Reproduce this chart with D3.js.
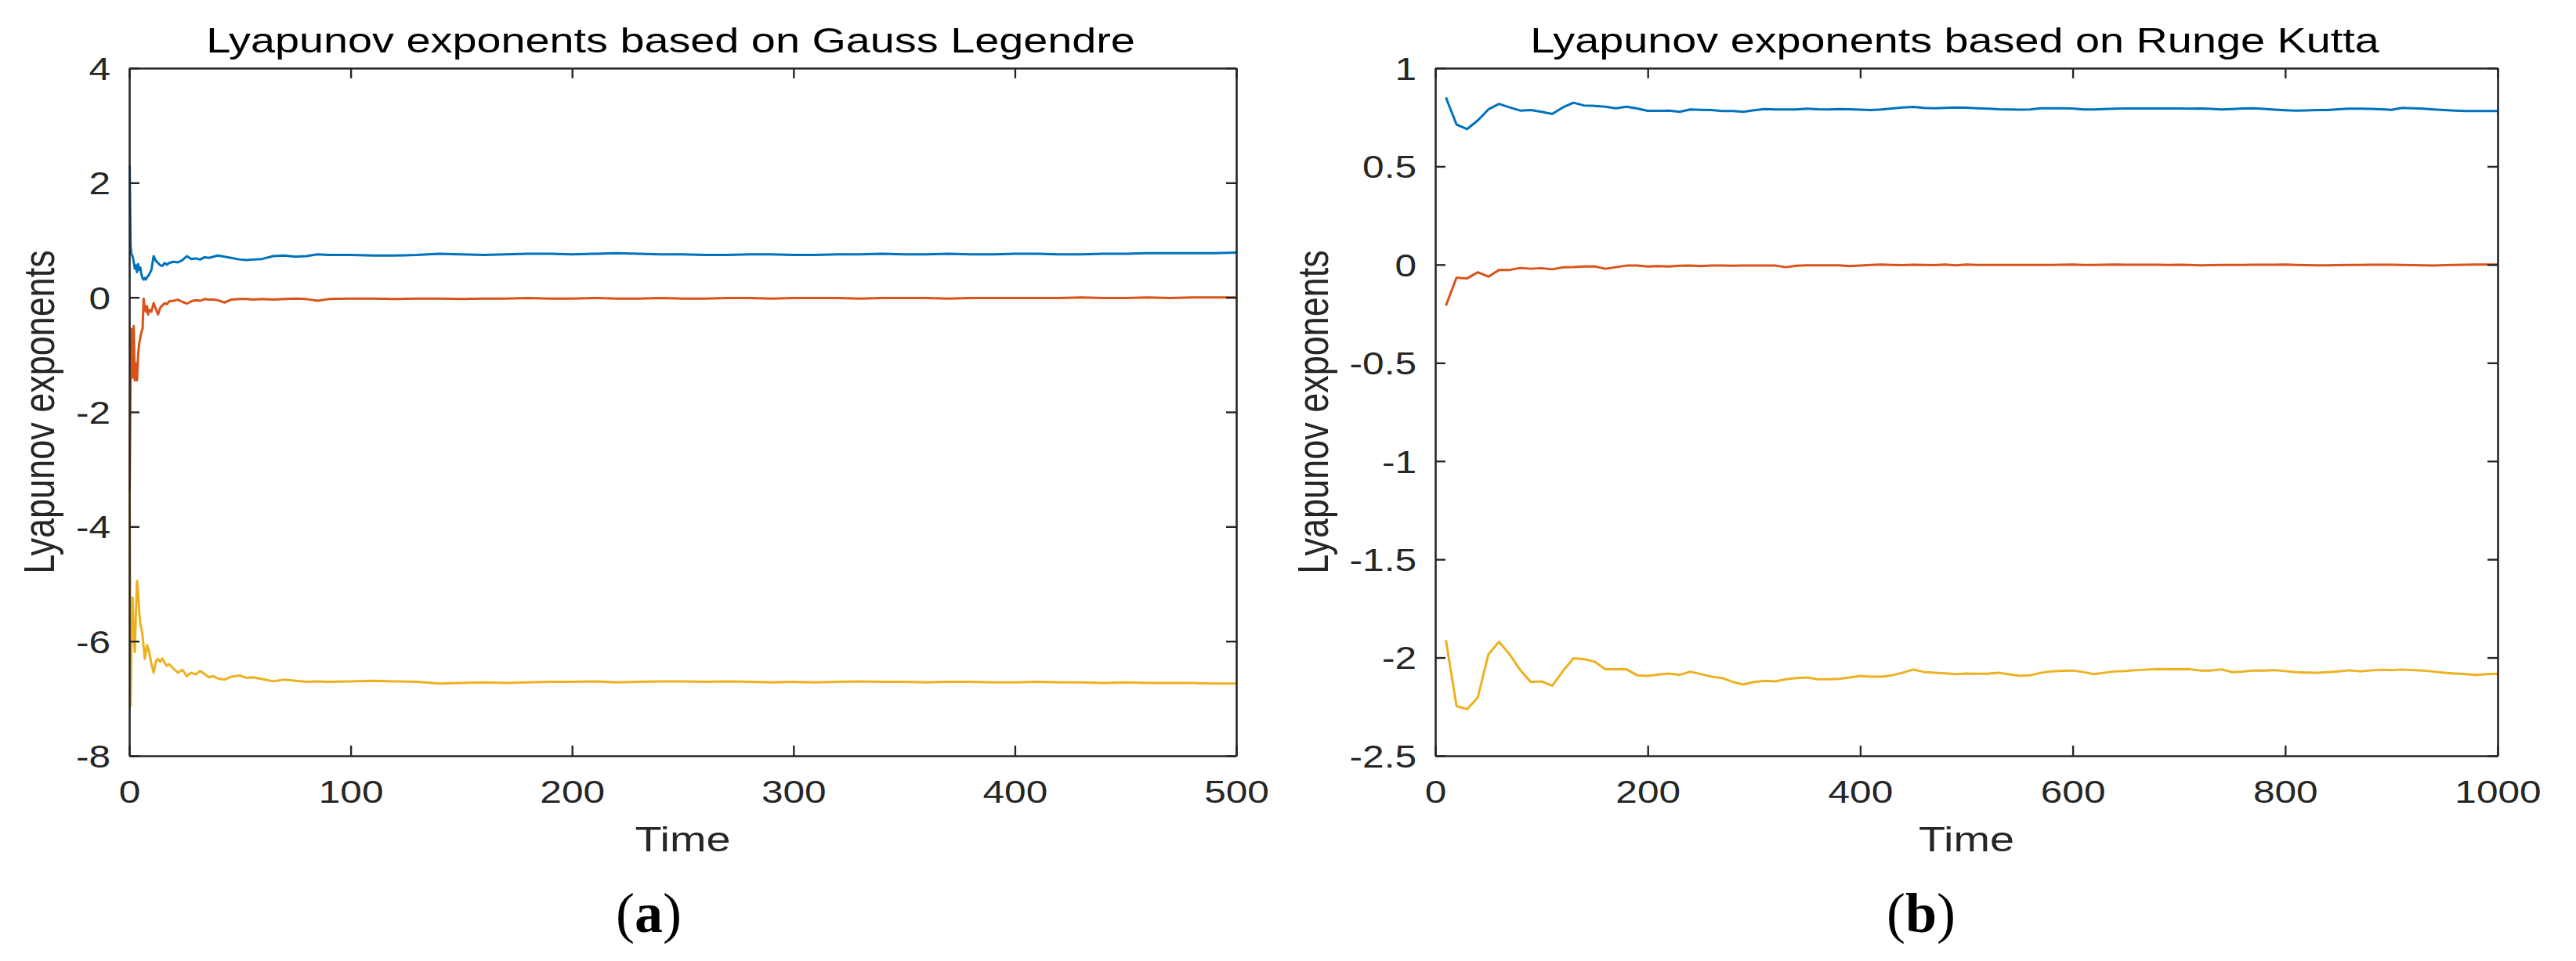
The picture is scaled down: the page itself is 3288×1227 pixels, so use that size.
<!DOCTYPE html>
<html><head><meta charset="utf-8">
<script src="https://cdn.jsdelivr.net/npm/d3@7"></script>
<style>html,body{margin:0;padding:0;background:#fff;} svg{display:block;}</style>
</head><body>
<svg id="chart" width="3288" height="1227"></svg>
<script>
// ---------- Panel (a): Gauss Legendre ----------
const timeA = [0.2,0.6,1,1.5,2,2.5,3,3.5,4,4.5,5,5.5,6,6.5,7,7.5,8,8.5,9,
  10,11,12,13,14,15,16,17,18,
  20,22,24,26,28,30,32,34,36,38,40,
  43,46,50,53,56,60,
  65,70,75,80,85,90,
  100,110,120,130,140,150,160,170,180,190,
  200,210,220,230,240,250,260,270,280,290,
  300,310,320,330,340,350,360,370,380,390,
  400,410,420,430,440,450,460,470,480,490,500];
const blueA = [2.30,0.90,0.75,0.72,0.62,0.50,0.56,0.44,0.58,0.48,0.52,0.40,0.33,0.31,0.34,0.31,0.35,0.37,0.40,
  0.48,0.72,0.64,0.60,0.56,0.55,0.60,0.57,0.60,
  0.62,0.61,0.65,0.72,0.67,0.68,0.66,0.70,0.69,0.71,0.73,
  0.71,0.69,0.66,0.65,0.66,0.67,
  0.72,0.73,0.71,0.72,0.75,0.74,
  0.74,0.73,0.73,0.74,0.76,0.75,0.74,0.75,0.76,0.76,
  0.75,0.76,0.77,0.76,0.75,0.75,0.74,0.74,0.75,0.75,
  0.74,0.74,0.75,0.75,0.76,0.75,0.75,0.76,0.75,0.75,
  0.76,0.76,0.75,0.75,0.76,0.76,0.77,0.77,0.77,0.77,0.78];
const redA = [-3.40,-1.30,-0.55,-1.40,-0.50,-1.45,-1.15,-1.45,-1.00,-0.80,-0.70,-0.60,-0.55,-0.02,-0.20,-0.25,-0.15,-0.30,-0.22,
  -0.25,-0.10,-0.20,-0.30,-0.18,-0.14,-0.10,-0.12,-0.07,
  -0.06,-0.04,-0.08,-0.11,-0.07,-0.05,-0.06,-0.03,-0.04,-0.04,-0.05,
  -0.09,-0.04,-0.03,-0.03,-0.04,-0.03,
  -0.04,-0.03,-0.02,-0.03,-0.06,-0.03,
  -0.02,-0.02,-0.03,-0.02,-0.02,-0.03,-0.02,-0.02,-0.01,-0.02,
  -0.02,-0.01,-0.02,-0.02,-0.01,-0.02,-0.02,-0.01,-0.01,-0.02,
  -0.01,-0.01,-0.01,-0.02,-0.01,-0.01,-0.01,-0.02,-0.01,-0.01,
  -0.01,-0.01,-0.01,0.00,-0.01,-0.01,0.00,-0.01,0.00,0.00,0.00];
const yellowA = [-3.35,-7.13,-6.00,-5.24,-5.90,-6.19,-5.50,-4.95,-5.15,-5.50,-5.70,-5.78,-5.90,-6.10,-6.31,-6.20,-6.07,-6.12,-6.19,
  -6.40,-6.55,-6.35,-6.31,-6.36,-6.30,-6.38,-6.43,-6.40,
  -6.48,-6.55,-6.50,-6.61,-6.55,-6.58,-6.52,-6.57,-6.63,-6.61,-6.65,
  -6.67,-6.62,-6.60,-6.64,-6.63,-6.66,
  -6.70,-6.67,-6.69,-6.71,-6.70,-6.71,
  -6.70,-6.69,-6.70,-6.71,-6.74,-6.73,-6.72,-6.73,-6.72,-6.71,
  -6.71,-6.70,-6.72,-6.71,-6.70,-6.70,-6.71,-6.70,-6.71,-6.72,
  -6.71,-6.72,-6.71,-6.70,-6.71,-6.71,-6.72,-6.71,-6.71,-6.72,
  -6.72,-6.71,-6.72,-6.72,-6.73,-6.72,-6.73,-6.73,-6.73,-6.74,-6.74];
const xTicksA = [0,100,200,300,400,500];
const yTicksA = [-8,-6,-4,-2,0,2,4];

// ---------- Panel (b): Runge Kutta ----------
const timeB = [10,20,30,40,50,60,70,80,90,100,
  110,120,130,140,150,160,170,180,190,200,
  210,220,230,240,250,260,270,280,290,300,
  310,320,330,340,350,360,370,380,390,400,
  410,420,430,440,450,460,470,480,490,500,
  510,520,530,540,550,560,570,580,590,600,
  610,620,630,640,650,660,670,680,690,700,
  710,720,730,740,750,760,770,780,790,800,
  810,820,830,840,850,860,870,880,890,900,
  910,920,930,940,950,960,970,980,990,1000];
const blueB = [0.851,0.713,0.690,0.734,0.790,0.818,0.800,0.784,0.787,0.778,
  0.767,0.800,0.824,0.810,0.808,0.804,0.796,0.804,0.795,0.783,
  0.783,0.784,0.778,0.790,0.788,0.787,0.782,0.782,0.778,0.786,
  0.792,0.790,0.790,0.790,0.794,0.791,0.790,0.792,0.791,0.789,
  0.787,0.790,0.795,0.800,0.803,0.798,0.796,0.798,0.800,0.799,
  0.796,0.794,0.791,0.790,0.789,0.790,0.796,0.796,0.796,0.795,
  0.790,0.790,0.792,0.794,0.795,0.795,0.795,0.795,0.795,0.795,
  0.794,0.795,0.793,0.790,0.792,0.795,0.796,0.793,0.789,0.786,
  0.784,0.785,0.787,0.787,0.791,0.794,0.794,0.793,0.791,0.788,
  0.798,0.796,0.794,0.790,0.787,0.784,0.782,0.782,0.782,0.782];
const redB = [-0.209,-0.066,-0.070,-0.039,-0.061,-0.027,-0.027,-0.017,-0.021,-0.018,
  -0.024,-0.014,-0.013,-0.010,-0.009,-0.021,-0.013,-0.005,-0.005,-0.010,
  -0.008,-0.010,-0.006,-0.005,-0.008,-0.005,-0.005,-0.006,-0.005,-0.005,
  -0.005,-0.005,-0.013,-0.006,-0.004,-0.004,-0.004,-0.004,-0.008,-0.005,
  -0.002,0.000,-0.002,-0.003,-0.001,-0.002,-0.003,0.000,-0.004,0.000,
  -0.002,-0.002,-0.002,-0.002,-0.002,-0.002,-0.002,-0.002,-0.001,0.000,
  -0.002,-0.002,-0.001,0.000,-0.001,-0.001,-0.001,-0.001,-0.002,-0.001,
  -0.002,-0.004,-0.003,-0.002,-0.002,-0.002,-0.001,-0.001,-0.001,0.000,
  -0.002,-0.003,-0.004,-0.004,-0.003,-0.002,-0.002,-0.001,-0.001,-0.001,
  -0.002,-0.003,-0.004,-0.005,-0.003,-0.002,-0.001,0.000,0.000,0.000];
const yellowB = [-1.911,-2.247,-2.263,-2.203,-1.984,-1.920,-1.984,-2.064,-2.124,-2.121,
  -2.144,-2.070,-2.004,-2.008,-2.021,-2.060,-2.060,-2.060,-2.090,-2.093,
  -2.086,-2.081,-2.088,-2.072,-2.084,-2.097,-2.104,-2.124,-2.137,-2.124,
  -2.118,-2.121,-2.110,-2.104,-2.101,-2.110,-2.110,-2.108,-2.101,-2.093,
  -2.097,-2.097,-2.090,-2.077,-2.061,-2.073,-2.077,-2.080,-2.084,-2.081,
  -2.082,-2.082,-2.077,-2.085,-2.092,-2.090,-2.078,-2.070,-2.067,-2.066,
  -2.074,-2.084,-2.077,-2.070,-2.068,-2.064,-2.061,-2.059,-2.060,-2.060,
  -2.059,-2.066,-2.066,-2.060,-2.074,-2.071,-2.066,-2.066,-2.064,-2.069,
  -2.074,-2.076,-2.077,-2.074,-2.070,-2.065,-2.070,-2.066,-2.062,-2.064,
  -2.061,-2.064,-2.066,-2.072,-2.077,-2.081,-2.084,-2.088,-2.084,-2.082];
const xTicksB = [0,200,400,600,800,1000];
const yTicksB = [-2.5,-2,-1.5,-1,-0.5,0,0.5,1];

const titles = ["Lyapunov exponents based on Gauss Legendre", "Lyapunov exponents based on Runge Kutta"];
const xLabelText = "Time";
const yLabelText = "Lyapunov exponents";
const panelLetters = ["a", "b"];
const seriesColors = ["#0072BD", "#D95319", "#EDB120"];

// ---------- drawing ----------
const SX = 1.24;               // horizontal stretch of the original figure
const FONT = "'Liberation Sans', Arial, Helvetica, sans-serif";
const SERIF = "'Liberation Serif', 'Times New Roman', Times, serif";
const AX = "#262626";
const svg = d3.select("#chart");
svg.append("rect").attr("width", 3288).attr("height", 1227).attr("fill", "#fff");

function stretchTicks(sel) {
  sel.selectAll(".tick text").each(function () {
    const t = d3.select(this);
    const x0 = +t.attr("x") || 0;
    t.attr("x", x0 / SX).attr("transform", `scale(${SX},1)`);
  });
}

function drawPanel(cfg) {
  const g = svg.append("g");
  const x = d3.scaleLinear().domain(cfg.xDomain).range([cfg.left, cfg.right]);
  const y = d3.scaleLinear().domain(cfg.yDomain).range([cfg.bottom, cfg.top]);
  const line = d3.line().x(d => x(d[0])).y(d => y(d[1]));

  cfg.series.forEach((vals, i) => {
    g.append("path")
      .datum(cfg.time.map((t, j) => [t, vals[j]]))
      .attr("d", line)
      .attr("fill", "none")
      .attr("stroke", seriesColors[i])
      .attr("stroke-width", 3)
      .attr("stroke-linejoin", "round");
  });

  const fmt = d => String(d);
  const TL = 13;
  const axB = g.append("g").attr("transform", `translate(0,${cfg.bottom})`)
    .call(d3.axisBottom(x).tickValues(cfg.xTicks).tickSizeInner(-TL).tickSizeOuter(0).tickPadding(32).tickFormat(fmt));
  const axL = g.append("g").attr("transform", `translate(${cfg.left},0)`)
    .call(d3.axisLeft(y).tickValues(cfg.yTicks).tickSizeInner(-TL).tickSizeOuter(0).tickPadding(24).tickFormat(fmt));
  const axT = g.append("g").attr("transform", `translate(0,${cfg.top})`)
    .call(d3.axisTop(x).tickValues(cfg.xTicks).tickSizeInner(-TL).tickSizeOuter(0).tickFormat(""));
  const axR = g.append("g").attr("transform", `translate(${cfg.right},0)`)
    .call(d3.axisRight(y).tickValues(cfg.yTicks).tickSizeInner(-TL).tickSizeOuter(0).tickFormat(""));

  [axB, axL, axT, axR].forEach(a => {
    a.select(".domain").attr("stroke", AX).attr("stroke-width", 2.6);
    a.selectAll(".tick line").attr("stroke", AX).attr("stroke-width", 2.4);
    a.selectAll(".tick text").attr("fill", AX).attr("font-size", 40).attr("font-family", FONT);
  });
  axL.selectAll(".tick text").attr("dy", "0.36em");
  stretchTicks(axB);
  stretchTicks(axL);

  // title
  g.append("text")
    .attr("transform", `translate(${cfg.titleX},67) scale(${SX},1)`)
    .attr("text-anchor", "middle").attr("font-family", FONT).attr("font-size", 45)
    .attr("fill", "#000").text(cfg.title);

  // x label
  g.append("text")
    .attr("transform", `translate(${(cfg.left + cfg.right) / 2},1087) scale(${SX},1)`)
    .attr("text-anchor", "middle").attr("font-family", FONT).attr("font-size", 45)
    .attr("fill", AX).text(xLabelText);

  // y label
  g.append("text")
    .attr("transform", `translate(${cfg.yLabelX},${(cfg.top + cfg.bottom) / 2}) scale(${SX},1) rotate(-90)`)
    .attr("text-anchor", "middle").attr("font-family", FONT).attr("font-size", 45)
    .attr("fill", AX).text(yLabelText);

  // panel letter
  const pl = g.append("text")
    .attr("x", cfg.letterX).attr("y", 1190)
    .attr("text-anchor", "middle").attr("font-family", SERIF).attr("font-size", 72)
    .attr("fill", "#000");
  pl.append("tspan").text("(");
  pl.append("tspan").attr("font-weight", "bold").text(cfg.letter);
  pl.append("tspan").text(")");
}

drawPanel({
  left: 165, right: 1578, top: 87, bottom: 965,
  xDomain: [0, 500], yDomain: [-8, 4],
  xTicks: xTicksA, yTicks: yTicksA,
  time: timeA, series: [blueA, redA, yellowA],
  title: titles[0], titleX: 856, yLabelX: 69, letterX: 828, letter: panelLetters[0]
});
drawPanel({
  left: 1832, right: 3188, top: 87, bottom: 965,
  xDomain: [0, 1000], yDomain: [-2.5, 1],
  xTicks: xTicksB, yTicks: yTicksB,
  time: timeB, series: [blueB, redB, yellowB],
  title: titles[1], titleX: 2495, yLabelX: 1695, letterX: 2452, letter: panelLetters[1]
});
</script>
</body></html>
